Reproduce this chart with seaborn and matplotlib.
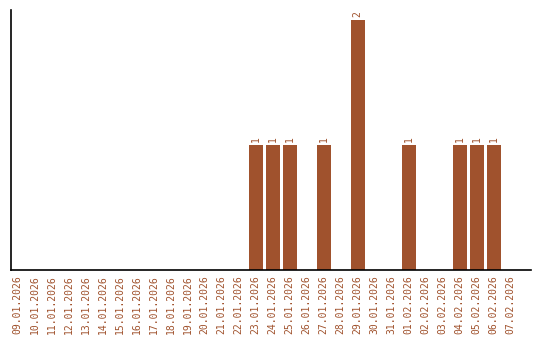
import matplotlib
matplotlib.use("Agg")
import matplotlib.pyplot as plt
import seaborn as sns
import pandas as pd

dates = ["09.01.2026", "10.01.2026", "11.01.2026", "12.01.2026", "13.01.2026",
         "14.01.2026", "15.01.2026", "16.01.2026", "17.01.2026", "18.01.2026",
         "19.01.2026", "20.01.2026", "21.01.2026", "22.01.2026", "23.01.2026",
         "24.01.2026", "25.01.2026", "26.01.2026", "27.01.2026", "28.01.2026",
         "29.01.2026", "30.01.2026", "31.01.2026", "01.02.2026", "02.02.2026",
         "03.02.2026", "04.02.2026", "05.02.2026", "06.02.2026", "07.02.2026"]
counts = [0, 0, 0, 0, 0, 0, 0, 0, 0, 0, 0, 0, 0, 0, 1,
          1, 1, 0, 1, 0, 2, 0, 0, 1, 0, 0, 1, 1, 1, 0]

color = "#A0522D"
sns.set_style("white")
plt.rcParams['font.family'] = ['DejaVu Sans Mono']

df = pd.DataFrame({"date": dates, "count": counts})
fig = plt.figure(figsize=(5.4, 3.4), dpi=100)
ax = fig.add_axes([0.0204, 0.206, 0.963, 0.765])
sns.barplot(data=df, x="date", y="count", color=color, saturation=1, width=0.82, ax=ax)
for p in ax.patches:
    p.set_edgecolor("none")

for i, v in enumerate(counts):
    if v > 0:
        ax.text(i, v + 0.02, str(v), rotation=90, ha="center", va="bottom",
                fontsize=7, color=color)

ax.set_xlim(-0.38, 30.2)
ax.set_ylim(0, 2.08)
ax.set_xlabel("")
ax.set_ylabel("")
ax.set_yticks([])
ax.tick_params(axis="x", length=0, pad=4, labelsize=7, labelcolor=color, rotation=90)
for s in ["top", "right"]:
    ax.spines[s].set_visible(False)
for s in ["left", "bottom"]:
    ax.spines[s].set_color("black")
    ax.spines[s].set_linewidth(1.2)

fig.savefig("out.png", dpi=100)
